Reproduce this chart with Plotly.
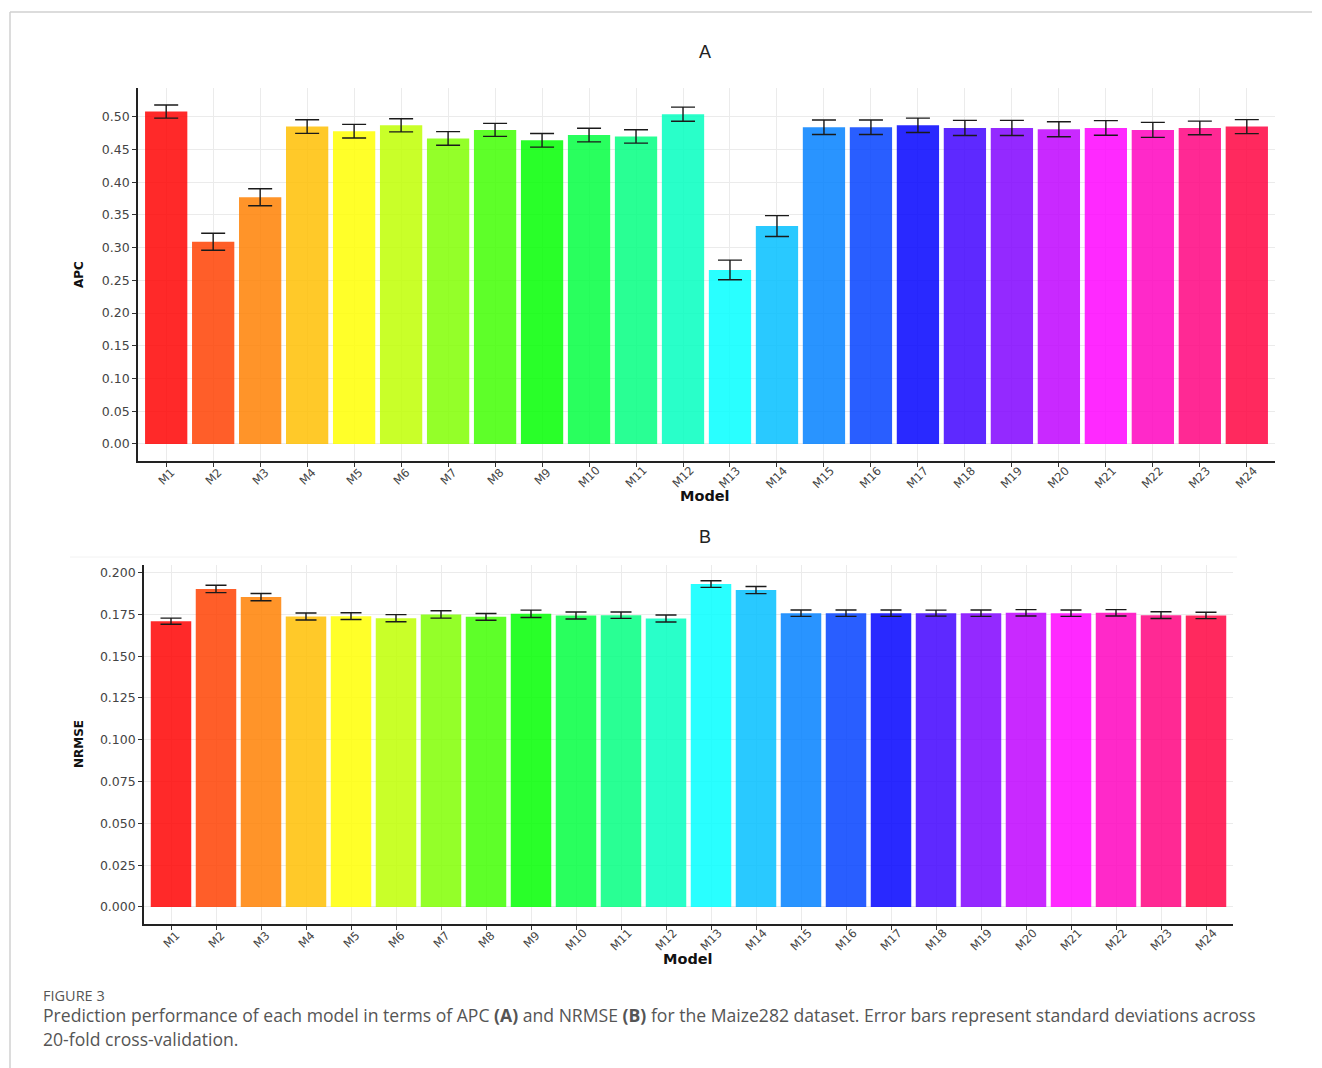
import colorsys
import plotly.graph_objects as go

# ---------------- data ----------------
models = ["M1", "M2", "M3", "M4", "M5", "M6", "M7", "M8", "M9", "M10", "M11", "M12",
          "M13", "M14", "M15", "M16", "M17", "M18", "M19", "M20", "M21", "M22", "M23", "M24"]

apc = [0.508, 0.309, 0.377, 0.485, 0.478, 0.487, 0.467, 0.480, 0.464, 0.472, 0.470, 0.504,
       0.266, 0.333, 0.484, 0.484, 0.487, 0.483, 0.483, 0.481, 0.483, 0.480, 0.483, 0.485]
apc_sd = [0.010, 0.013, 0.013, 0.0104, 0.0104, 0.010, 0.0104, 0.010, 0.0104, 0.0104, 0.0102, 0.0107,
          0.015, 0.016, 0.011, 0.011, 0.011, 0.0115, 0.0115, 0.0115, 0.0112, 0.0115, 0.0104, 0.0107]

nrmse = [0.1709, 0.1902, 0.1853, 0.1737, 0.1739, 0.1727, 0.1749, 0.1735, 0.1753, 0.1743, 0.1745, 0.1725,
         0.1931, 0.1895, 0.1757, 0.1757, 0.1757, 0.1757, 0.1757, 0.1759, 0.1757, 0.1759, 0.1745, 0.1743]
nrmse_sd = [0.0018, 0.0022, 0.0022, 0.0021, 0.0020, 0.0021, 0.0022, 0.0020, 0.0022, 0.0021, 0.0019, 0.0021,
            0.0020, 0.0021, 0.0019, 0.0019, 0.0019, 0.0018, 0.0019, 0.0019, 0.0019, 0.0019, 0.0020, 0.0019]

apc_ticks = [0.00, 0.05, 0.10, 0.15, 0.20, 0.25, 0.30, 0.35, 0.40, 0.45, 0.50]
nrmse_ticks = [0.000, 0.025, 0.050, 0.075, 0.100, 0.125, 0.150, 0.175, 0.200]

caption_head = "FIGURE 3"
caption_l1 = ("Prediction performance of each model in terms of APC <b>(A)</b> and NRMSE <b>(B)</b> "
              "for the Maize282 dataset. Error bars represent standard deviations across")
caption_l2 = "20-fold cross-validation."

# ---------------- style ----------------
W, H = 1322, 1068


def px(x):
    return x / W


def py(y):
    return 1 - y / H


def rainbow(n):
    out = []
    for i in range(n):
        r, g, b = colorsys.hsv_to_rgb(i / n, 1, 1)
        out.append(f"rgb({int(r*255)},{int(g*255)},{int(b*255)})")
    return out


bar_colors = rainbow(len(models))
GRID = "#EBEBEB"
TICKFONT = dict(family="DejaVu Sans", size=12.5, color="#444444")
XLABFONT = dict(family="DejaVu Sans", size=11.5, color="#444444")

fig = go.Figure()

fig.add_trace(go.Bar(
    x=models, y=apc, width=0.9,
    marker=dict(color=bar_colors, opacity=0.84, line=dict(width=0)),
    error_y=dict(type="data", array=apc_sd, color="#1a1a1a", thickness=1.4, width=12),
    xaxis="x", yaxis="y", showlegend=False, hoverinfo="skip",
))
fig.add_trace(go.Bar(
    x=models, y=nrmse, width=0.9,
    marker=dict(color=bar_colors, opacity=0.84, line=dict(width=0)),
    error_y=dict(type="data", array=nrmse_sd, color="#1a1a1a", thickness=1.4, width=10.5),
    xaxis="x2", yaxis="y2", showlegend=False, hoverinfo="skip",
))

common_x = dict(type="category", showgrid=True, gridcolor=GRID, gridwidth=1.3,
                showline=True, linecolor="#222", linewidth=1.6, ticks="outside",
                ticklen=4, tickcolor="#333", showticklabels=False,
                zeroline=False, fixedrange=True)
common_y = dict(showgrid=True, gridcolor=GRID, gridwidth=1.3, showline=True,
                linecolor="#222", linewidth=1.6, ticks="outside", ticklen=4,
                tickcolor="#333", tickfont=TICKFONT, zeroline=False, fixedrange=True)

fig.update_layout(
    width=W, height=H,
    margin=dict(l=0, r=0, t=0, b=0),
    paper_bgcolor="white", plot_bgcolor="white",
    bargap=0.1,
    xaxis=dict(common_x, domain=[px(138), px(1275)], range=[-0.6, 23.6], anchor="y"),
    yaxis=dict(common_y, domain=[py(461), py(88)], range=[-0.026, 0.544],
               tickvals=apc_ticks, tickformat=".2f", anchor="x"),
    xaxis2=dict(common_x, domain=[px(144), px(1233)], range=[-0.6, 23.6], anchor="y2"),
    yaxis2=dict(common_y, domain=[py(924), py(565)], range=[-0.0102, 0.2045],
                tickvals=nrmse_ticks, tickformat=".3f", anchor="x2"),
)

ann = []
ann.append(dict(text="A", x=px(705), y=py(52), font=dict(family="Liberation Sans", size=18, color="#222")))
ann.append(dict(text="B", x=px(705), y=py(537), font=dict(family="Liberation Sans", size=18, color="#222")))
ann.append(dict(text="<b>Model</b>", x=px(705), y=py(496), font=dict(family="DejaVu Sans", size=14.5, color="#111")))
ann.append(dict(text="<b>Model</b>", x=px(688), y=py(959), font=dict(family="DejaVu Sans", size=14.5, color="#111")))
ann.append(dict(text="<b>APC</b>", x=px(79), y=py(275), textangle=-90, font=dict(family="DejaVu Sans", size=12, color="#111")))
ann.append(dict(text="<b>NRMSE</b>", x=px(79), y=py(744), textangle=-90, font=dict(family="DejaVu Sans", size=12, color="#111")))
for a in ann:
    a.update(xref="paper", yref="paper", showarrow=False, xanchor="center", yanchor="middle")

# rotated category labels, centred under each tick (ggplot style)
for m in models:
    ann.append(dict(text=m, x=m, xref="x", y=py(477), yref="paper", textangle=-45,
                    showarrow=False, xanchor="center", yanchor="middle", font=XLABFONT))
    ann.append(dict(text=m, x=m, xref="x2", y=py(940), yref="paper", textangle=-45,
                    showarrow=False, xanchor="center", yanchor="middle", font=XLABFONT))

cap = [
    dict(text=caption_head, x=px(41), y=py(996), font=dict(family="Open Sans", size=14.5, color="#555")),
    dict(text=caption_l1, x=px(41), y=py(1015), font=dict(family="Open Sans", size=17.6, color="#555")),
    dict(text=caption_l2, x=px(41), y=py(1039), font=dict(family="Open Sans", size=17.6, color="#555")),
]
for a in cap:
    a.update(xref="paper", yref="paper", showarrow=False, xanchor="left", yanchor="middle")

fig.update_layout(annotations=ann + cap)

fig.update_layout(shapes=[
    dict(type="line", xref="paper", yref="paper", x0=px(10), x1=px(1312), y0=py(12), y1=py(12),
         line=dict(color="#D0D0D0", width=1.5)),
    dict(type="line", xref="paper", yref="paper", x0=px(10), x1=px(10), y0=py(12), y1=py(1068),
         line=dict(color="#D0D0D0", width=1.5)),
    dict(type="line", xref="paper", yref="paper", x0=px(70), x1=px(1237), y0=py(557), y1=py(557),
         line=dict(color="#F2F2F2", width=1)),
])

fig.write_html("out.html", config={"displayModeBar": False},
               post_script="document.body.style.margin='0';document.body.style.overflow='hidden';")
